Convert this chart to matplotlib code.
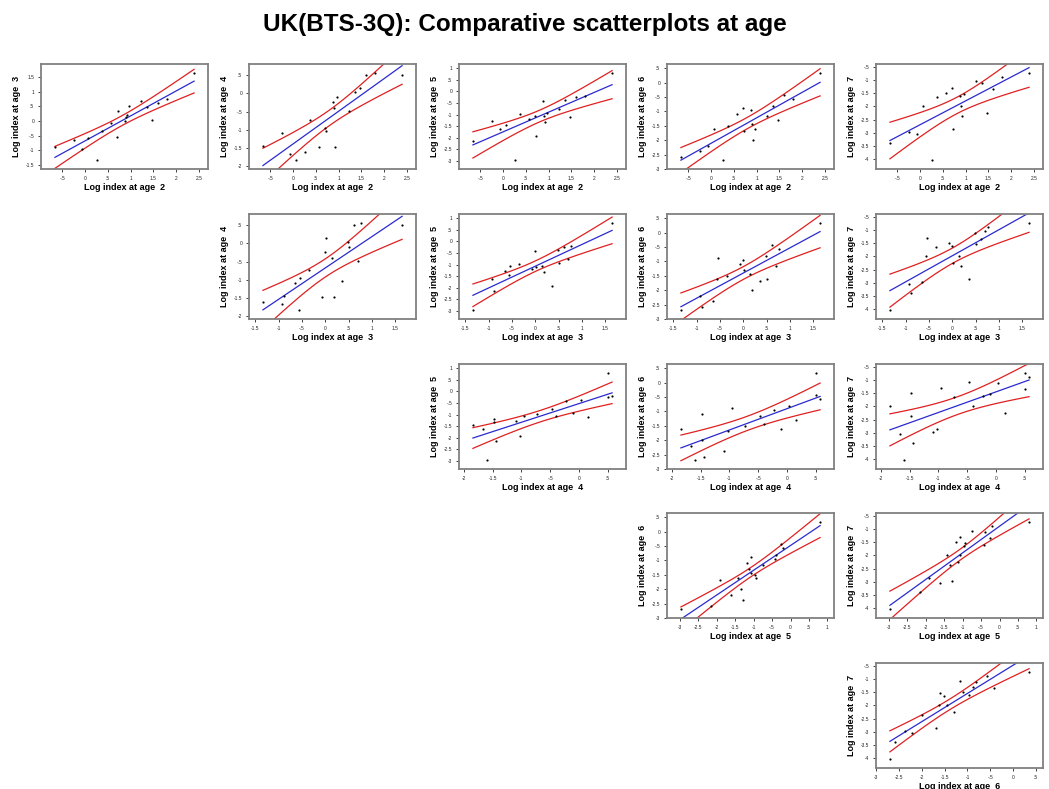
import matplotlib
matplotlib.use('Agg')
import matplotlib.pyplot as plt
from matplotlib.ticker import MultipleLocator, FuncFormatter
import numpy as np

plt.rcParams['font.family'] = ['Liberation Sans', 'DejaVu Sans']

# log index of each year-class at ages 2..7
age2 = [-0.66, -0.24, -0.07, 0.07, 0.26, 0.37, 0.56, 0.69, 0.73, 0.88,
        0.90, 0.91, 0.97, 1.22, 1.35, 1.46, 1.79, 2.39, 1.60]
age3 = [-0.88, -0.66, -0.94, -0.57, -1.34, -0.34, -0.06, -0.55, 0.36, 0.00,
        0.14, 0.19, 0.51, 0.70, 0.48, 0.02, 0.76, 1.65, 0.62]
age4 = [-1.44, -1.09, -1.67, -1.84, -1.60, -0.73, -1.47, -0.96, -1.03, -0.23,
        -0.40, -1.47, -0.10, -0.47, 0.03, 0.16, 0.57, 0.50, 0.50]
age5 = [-2.16, -1.30, -1.62, -1.43, -2.97, -0.97, -1.19, -1.07, -1.91, -0.42,
        -1.07, -1.33, -0.94, -0.75, -0.39, -1.12, -0.20, 0.80, -0.25]
age6 = [-2.58, -2.37, -2.22, -1.62, -2.70, -1.51, -1.10, -0.89, -1.68, -0.96,
        -1.44, -1.99, -1.60, -1.16, -0.82, -1.30, -0.58, 0.35, -0.41]
age7 = [-3.38, -2.97, -3.03, -1.97, -4.03, -1.64, -1.48, -1.30, -2.85, -1.60,
        -1.98, -2.36, -1.52, -1.06, -1.10, -2.24, -0.88, -0.73, -1.33]

index_by_age = {2: age2, 3: age3, 4: age4, 5: age5, 6: age6, 7: age7}
t_crit = 2.11  # 95% two-sided, 17 df


def stata_fmt(v, pos):
    s = '%g' % round(v, 2)
    if s == '-0':
        s = '0'
    return s.replace('0.', '.')


# panel grid in pixels (left, top of each axes)
W, H = 1049, 789
col_left = [41, 249, 459, 667, 876]
row_top = [64, 214, 364, 513, 663]
ax_w, ax_h = 167, 105

fig = plt.figure(figsize=(W / 100, H / 100), dpi=100)
fig.text(0.5, 1 - 24 / H, 'UK(BTS-3Q): Comparative scatterplots at age',
         ha='center', va='center', fontsize=17.5, fontweight='bold')

for r in range(5):
    for c in range(r, 5):
        xa, ya = r + 2, c + 3
        x = np.array(index_by_age[xa])
        y = np.array(index_by_age[ya])
        ax = fig.add_axes([col_left[c] / W, 1 - (row_top[r] + ax_h) / H,
                           ax_w / W, ax_h / H])

        # regression line and 95% confidence band for the mean
        b, a = np.polyfit(x, y, 1)
        n = len(x)
        resid = y - (a + b * x)
        s = np.sqrt(np.sum(resid ** 2) / (n - 2))
        sxx = np.sum((x - x.mean()) ** 2)
        xs = np.linspace(x.min(), x.max(), 100)
        fit = a + b * xs
        half = t_crit * s * np.sqrt(1 / n + (xs - x.mean()) ** 2 / sxx)

        ax.plot(xs, fit + half, color='#e02020', lw=0.9)
        ax.plot(xs, fit - half, color='#e02020', lw=0.9)
        ax.plot(xs, fit, color='#2a2ad0', lw=0.9)
        ax.scatter(x, y, s=2.5, color='black', zorder=3, linewidths=0)

        xpad = (x.max() - x.min()) * 0.1
        ypad = (y.max() - y.min()) * 0.1
        ax.set_xlim(x.min() - xpad, x.max() + xpad)
        ax.set_ylim(y.min() - ypad, y.max() + ypad)

        ax.xaxis.set_major_locator(MultipleLocator(0.5))
        ax.yaxis.set_major_locator(MultipleLocator(0.5))
        ax.xaxis.set_major_formatter(FuncFormatter(stata_fmt))
        ax.yaxis.set_major_formatter(FuncFormatter(stata_fmt))
        ax.tick_params(labelsize=3.5, length=2, width=0.6, pad=3,
                       colors='#222222')
        for sp in ax.spines.values():
            sp.set_color('#808080')
            sp.set_linewidth(1.3)

        ax.set_xlabel('Log index at age  %d' % xa, fontsize=6.5,
                      fontweight='bold', labelpad=1.5)
        ax.set_ylabel('Log index at age  %d' % ya, fontsize=6.5,
                      fontweight='bold', labelpad=3)

fig.savefig('out.png', dpi=100)
plt.close(fig)
